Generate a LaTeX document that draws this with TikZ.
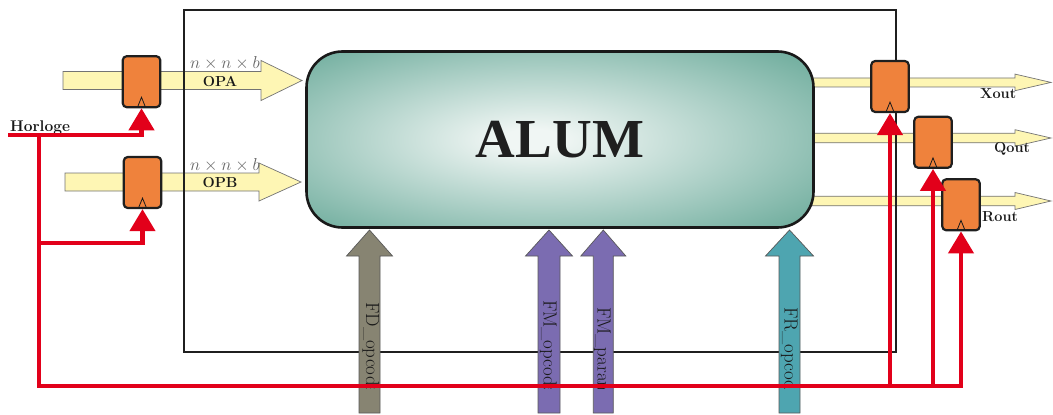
\documentclass[tikz,border=0pt]{standalone}
\usepackage{fontspec}
\newfontfamily\alufont{Liberation Serif}
\usetikzlibrary{arrows.meta,calc}
\definecolor{yel}{HTML}{FEF6B4}
\definecolor{regor}{HTML}{EF823C}
\definecolor{clkred}{HTML}{E2001A}
\definecolor{fdgray}{HTML}{878472}
\definecolor{fmpur}{HTML}{7B6CB1}
\definecolor{frteal}{HTML}{4EA5B0}
\definecolor{alumin}{HTML}{F0F6F4}
\definecolor{alumout}{HTML}{5AA18F}
\pgfdeclareradialshading{alumshade}{\pgfpoint{-3bp}{0bp}}{color(0bp)=(alumin); color(3bp)=(alumin); color(40bp)=(alumout); color(50bp)=(alumout)}
% horizontal fat arrow: x1, y(px), xtip, body half, head half, head length, style
\newcommand\hfat[7]{\filldraw[#7] (#1,{-(#2)+#4}) -- ({#3-#6},{-(#2)+#4}) -- ({#3-#6},{-(#2)+#5}) -- (#3,-#2) -- ({#3-#6},{-(#2)-#5}) -- ({#3-#6},{-(#2)-#4}) -- (#1,{-(#2)-#4}) -- cycle;}
% vertical fat arrow pointing up: x, ybottom(px), ytip(px), body half, head half, head length, style
\newcommand\vfat[7]{\filldraw[#7] ({#1-#4},-#2) -- ({#1-#4},{-(#3)-#6}) -- ({#1-#5},{-(#3)-#6}) -- (#1,-#3) -- ({#1+#5},{-(#3)-#6}) -- ({#1+#4},{-(#3)-#6}) -- ({#1+#4},-#2) -- cycle;}
\tikzset{
  yarr/.style={fill=yel, draw=black!55, line width=0.7pt},
  fdsty/.style={fill=fdgray, draw=black!65, line width=0.7pt},
  fmsty/.style={fill=fmpur, draw=black!65, line width=0.7pt},
  frsty/.style={fill=frteal, draw=black!65, line width=0.7pt},
  alu/.style={draw=black!90, line width=2.6pt, shading=alumshade, rounded corners=36pt,
    minimum width=507pt, minimum height=176pt, inner sep=0pt,
    font=\alufont\bfseries\fontsize{55}{60}\selectfont, text=black!88},
  reg/.style={draw=black!88, line width=2.2pt, fill=regor, rounded corners=4pt,
    minimum width=37.5pt, minimum height=51pt, inner sep=0pt},
  clk/.style={draw=clkred, line width=4.3pt, line join=miter},
  clkarrow/.style={clk, -{Triangle[width=25pt,length=22pt]}},
  lab/.style={font=\bfseries\fontsize{14.5}{16}\selectfont, text=black!90, inner sep=0pt},
  dim/.style={font=\fontsize{16}{18}\selectfont, text=black!60, inner sep=0pt},
  vlab/.style={font=\fontsize{19}{21}\selectfont, text=black!90, inner sep=0pt, rotate=-90, anchor=base west},
}
\begin{document}
\begin{tikzpicture}[x=1pt,y=1pt]
\useasboundingbox (0,0) rectangle (1053,-415);
% yellow data arrows
\hfat{63}{80.5}{302}{9}{20}{41}{yarr}
\hfat{65}{182}{301}{9}{19}{42}{yarr}
\hfat{812}{82.4}{1051}{4.5}{8.3}{36}{yarr}
\hfat{812}{138}{1051}{4.8}{8.3}{36}{yarr}
\hfat{812}{201}{1051}{4.8}{8.5}{36}{yarr}
% outer frame
\draw[line width=2.8pt, black!88] (184,-10) rectangle (896,-352);
% control arrows
\vfat{369.5}{413}{230}{10.5}{23}{26}{fdsty}
\vfat{549}{413}{230}{11}{23.5}{26}{fmsty}
\vfat{603.3}{413}{230}{10}{22.5}{26}{fmsty}
\vfat{789.5}{413}{230}{10.5}{24}{26}{frsty}
% ALU
\node[alu] (alum) at (560,-139.5) {ALUM};
% control labels
\begin{scope}
\clip (300,-232) rectangle (830,-388);
\node[vlab] (fd) at (366,-302) {FD\_opcode};
\node[vlab] (fmo) at (543.5,-300) {FM\_opcode};
\node[vlab] (fmp) at (597.5,-307) {FM\_param};
\node[vlab] (fr) at (784.5,-307) {FR\_opcode};
\end{scope}
% registers
\node[reg] (regA) at (141.5,-81.7) {};
\node[reg] (regB) at (142.5,-182.5) {};
\node[reg] (regX) at (890,-86.5) {};
\node[reg] (regQ) at (933,-142.3) {};
\node[reg] (regR) at (961,-204.8) {};
\foreach \r in {regA,regB,regX,regQ,regR}
  \draw[line width=0.8pt, black!90] ($(\r.south)+(-3.8,1.6)$) -- ($(\r.south)+(0,11)$) -- ($(\r.south)+(3.8,1.6)$);
% labels
\node[dim, anchor=base west] (dA) at (190,-68.3) {$n\times n\times b$};
\node[dim, anchor=base west] (dB) at (190,-170) {$n\times n\times b$};
\node[lab] (opa) at (220,-81.5) {OPA};
\node[lab] (opb) at (220,-182.5) {OPB};
\node[lab, font=\bfseries\fontsize{15.5}{17}\selectfont, anchor=base west] (hor) at (10,-131) {Horloge};
\node[lab, anchor=base west] (xo) at (980,-98) {Xout};
\node[lab, anchor=base west] (qo) at (994,-152) {Qout};
\node[lab, anchor=base west] (ro) at (982,-221) {Rout};
% clock network
\coordinate (hl) at (8,-135);
\coordinate (j1) at (39,-135);
\coordinate (j2) at (39,-243);
\coordinate (j3) at (39,-386);
\draw[clkarrow] (hl) -| (regA.south);
\draw[clkarrow] (j1) -- (j2) -| (regB.south);
\draw[clkarrow] (j2) -- (j3) -| (regX.south);
\draw[clkarrow] (j3) -| (regQ.south);
\draw[clkarrow] (j3) -| (regR.south);
\end{tikzpicture}
\end{document}
